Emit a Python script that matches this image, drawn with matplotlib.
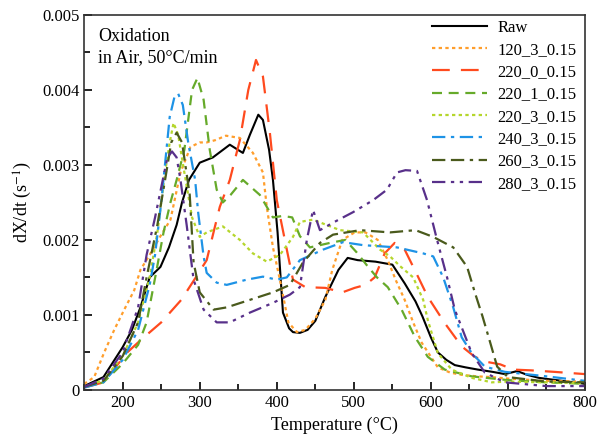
import matplotlib.pyplot as plt
from matplotlib.ticker import MultipleLocator

plt.rcParams['font.family'] = ['Liberation Serif', 'DejaVu Serif']
plt.rcParams['mathtext.fontset'] = 'stix'

# datos (temperatura en C, dX/dt en 1/s)
t_raw = [150, 175, 200, 212, 223, 235, 249, 260, 270, 277, 286, 300, 317, 339, 356, 365, 376, 382, 390, 395,
         401, 408, 416, 421, 430, 440, 450, 463, 480, 492, 505, 528, 550, 566, 580, 589, 600, 609, 620, 631,
         645, 661, 680, 696, 712, 725, 740, 770, 800]
y_raw = [0.00005, 0.00017, 0.00057, 0.0008, 0.0011, 0.0015, 0.00164, 0.0019, 0.0022, 0.0025, 0.0028, 0.00303,
         0.0031, 0.00327, 0.00316, 0.0034, 0.00367, 0.0036, 0.0032, 0.0028, 0.0021, 0.00103, 0.00082, 0.00077,
         0.00076, 0.0008, 0.00092, 0.00124, 0.0016, 0.00176, 0.00173, 0.00171, 0.00167, 0.00142, 0.00118,
         0.00098, 0.0007, 0.0005, 0.0004, 0.00033, 0.0003, 0.00027, 0.00024, 0.00021, 0.00025, 0.0002, 0.00016,
         0.00012, 0.00008]

t_120 = [150, 163, 176, 189, 202, 215, 223, 235, 249, 262, 275, 288, 300, 309, 320, 334, 352, 369, 382, 387,
         395, 404, 415, 426, 437, 450, 463, 472, 485, 501, 515, 531, 544, 555, 566, 577, 588, 609, 625, 640,
         660, 679, 700, 750, 800]
y_120 = [0.00008, 0.00017, 0.0005, 0.0008, 0.00107, 0.00133, 0.0016, 0.0018, 0.00205, 0.00227, 0.0029, 0.00324,
         0.0033, 0.0033, 0.00333, 0.00339, 0.00336, 0.00316, 0.0029, 0.00244, 0.0019, 0.00147, 0.0009, 0.00077,
         0.0008, 0.00095, 0.0012, 0.0016, 0.002, 0.0021, 0.0021, 0.002, 0.00173, 0.00145, 0.0012, 0.0009,
         0.00063, 0.0003, 0.00023, 0.0002, 0.00018, 0.00017, 0.00015, 0.00012, 0.00011]

t_220_0 = [150, 175, 206, 224, 250, 276, 293, 309, 326, 339, 352, 363, 373, 382, 391, 400, 413, 421, 437, 463,
           485, 501, 515, 527, 540, 553, 566, 579, 596, 618, 640, 657, 674, 690, 707, 730, 760, 800]
y_220_0 = [0.00003, 0.0001, 0.0005, 0.00067, 0.0009, 0.0012, 0.00147, 0.00173, 0.00244, 0.0028, 0.00333, 0.004,
           0.0044, 0.00418, 0.00343, 0.00253, 0.00187, 0.00147, 0.00137, 0.00136, 0.0013, 0.00136, 0.0014,
           0.0015, 0.00182, 0.00196, 0.00187, 0.0016, 0.00124, 0.00089, 0.00058, 0.00044, 0.00037, 0.00034,
           0.00027, 0.00026, 0.00024, 0.00021]

t_220_1 = [150, 175, 200, 220, 231, 244, 253, 262, 270, 280, 290, 297, 305, 313, 322, 330, 340, 356, 378, 395,
           408, 420, 430, 443, 469, 489, 504, 517, 530, 544, 562, 579, 596, 618, 653, 700, 750, 800]
y_220_1 = [0.00004, 0.0001, 0.00035, 0.0006, 0.0009, 0.0016, 0.0021, 0.0025, 0.0028, 0.0032, 0.004, 0.00416,
           0.00387, 0.0032, 0.00267, 0.0025, 0.0026, 0.0028, 0.0026, 0.0023, 0.00232, 0.0023, 0.00205, 0.0019,
           0.00196, 0.002, 0.00183, 0.00166, 0.0015, 0.00137, 0.00107, 0.00071, 0.00044, 0.00027, 0.00018,
           0.00013, 0.0001, 0.00008]

t_220_3 = [150, 175, 200, 220, 235, 245, 255, 261, 266, 272, 280, 290, 300, 309, 330, 352, 369, 387, 404, 421,
           430, 447, 482, 512, 534, 547, 560, 577, 590, 596, 609, 627, 653, 679, 700, 750, 800]
y_220_3 = [0.00004, 0.00013, 0.00045, 0.0009, 0.0015, 0.0021, 0.0029, 0.0033, 0.00356, 0.0034, 0.0029, 0.0023,
           0.00204, 0.0021, 0.00218, 0.002, 0.00182, 0.00171, 0.0018, 0.00204, 0.00224, 0.00227, 0.00213,
           0.0021, 0.00187, 0.00178, 0.00165, 0.0015, 0.0012, 0.00093, 0.00049, 0.00027, 0.00016, 0.0001,
           0.00011, 0.0001, 0.00009]

t_240_3 = [150, 175, 200, 220, 235, 242, 250, 261, 267, 272, 278, 285, 294, 298, 305, 309, 322, 335, 361, 382,
           400, 413, 430, 460, 486, 512, 556, 590, 603, 616, 629, 640, 653, 670, 696, 750, 800]
y_240_3 = [0.00003, 0.0001, 0.0004, 0.0008, 0.0014, 0.0018, 0.0025, 0.00364, 0.0039, 0.00395, 0.0038, 0.0033,
           0.0028, 0.00236, 0.00178, 0.00156, 0.00143, 0.0014, 0.00147, 0.00151, 0.00147, 0.0015, 0.00173,
           0.00187, 0.00197, 0.00193, 0.0019, 0.00182, 0.00178, 0.0015, 0.0011, 0.0007, 0.00049, 0.00031,
           0.00024, 0.00018, 0.00012]

t_260_3 = [150, 175, 200, 220, 231, 245, 255, 263, 270, 277, 287, 292, 300, 318, 335, 365, 395, 417, 434, 456,
           473, 508, 547, 580, 603, 629, 647, 657, 667, 677, 686, 700, 750, 800]
y_260_3 = [0.00004, 0.00012, 0.00045, 0.0009, 0.0015, 0.0022, 0.0028, 0.0033, 0.00343, 0.0033, 0.0026, 0.0017,
           0.0013, 0.00107, 0.0011, 0.0012, 0.0013, 0.0014, 0.0017, 0.00196, 0.00207, 0.00213, 0.0021, 0.00213,
           0.00204, 0.0019, 0.00164, 0.0013, 0.00098, 0.00063, 0.00031, 0.00017, 0.00011, 0.0001]

t_280_3 = [150, 175, 200, 220, 231, 242, 250, 258, 264, 270, 275, 283, 292, 305, 322, 339, 365, 395, 417, 430,
           439, 447, 456, 473, 499, 525, 543, 556, 567, 582, 595, 608, 621, 631, 653, 670, 696, 750, 800]
y_280_3 = [0.00004, 0.00015, 0.0005, 0.0011, 0.0018, 0.0023, 0.0027, 0.0031, 0.00318, 0.0031, 0.0028, 0.0022,
           0.00147, 0.00107, 0.0009, 0.0009, 0.00103, 0.00116, 0.00127, 0.00137, 0.002, 0.0024, 0.00213,
           0.00223, 0.00237, 0.00253, 0.00267, 0.0029, 0.00293, 0.00292, 0.00253, 0.002, 0.0015, 0.00107,
           0.00049, 0.00023, 0.0001, 0.00005, 0.00005]

plt.figure(figsize=(6.1, 4.41), dpi=100)
ax = plt.axes([0.138, 0.116, 0.821, 0.85])

ax.plot(t_raw, y_raw, color='black', lw=1.5, label='Raw')
ax.plot(t_120, y_120, color='#FF9E2C', lw=1.6, dashes=(1.5, 1.5), label='120_3_0.15')
ax.plot(t_220_0, y_220_0, color='#FF4A1E', lw=1.6, dashes=(8, 5), label='220_0_0.15')
ax.plot(t_220_1, y_220_1, color='#66AA2A', lw=1.6, dashes=(4.5, 3), label='220_1_0.15')
ax.plot(t_220_3, y_220_3, color='#B5D62C', lw=1.6, dashes=(1.5, 1.5), label='220_3_0.15')
ax.plot(t_240_3, y_240_3, color='#1E93E6', lw=1.6, dashes=(6, 2.5, 1.5, 2.5), label='240_3_0.15')
ax.plot(t_260_3, y_260_3, color='#4A5A1C', lw=1.6, dashes=(6, 2.5, 6, 2.5, 1.5, 2.5), label='260_3_0.15')
ax.plot(t_280_3, y_280_3, color='#58308A', lw=1.6, dashes=(6, 2.5, 1.5, 2.5, 1.5, 2.5), label='280_3_0.15')

ax.set_xlim(150, 800)
ax.set_ylim(0, 0.005)
ax.xaxis.set_major_locator(MultipleLocator(100))
ax.xaxis.set_minor_locator(MultipleLocator(50))
ax.yaxis.set_minor_locator(MultipleLocator(0.0005))
ax.set_yticks([0, 0.001, 0.002, 0.003, 0.004, 0.005])
ax.set_yticklabels(['0', '0.001', '0.002', '0.003', '0.004', '0.005'])
ax.tick_params(which='both', direction='in', top=False, right=False, labelsize=12, width=1.2)
ax.tick_params(which='major', length=6)
ax.tick_params(which='minor', length=4)
for s in ax.spines.values():
    s.set_linewidth(1.2)
    s.set_color('#333333')

ax.set_xlabel('Temperature (°C)', fontsize=13, labelpad=4)
ax.set_ylabel('dX/dt (s$^{-1}$)', fontsize=13, labelpad=6)
ax.text(0.028, 0.965, 'Oxidation\nin Air, 50°C/min', transform=ax.transAxes, fontsize=13,
        va='top', ha='left', linespacing=1.3)

ax.legend(loc='upper right', frameon=False, fontsize=12, handlelength=3.3, handletextpad=0.65,
          labelspacing=0.38, borderaxespad=0.1, bbox_to_anchor=(1.0, 1.01))

plt.savefig('out.png', dpi=100)
plt.close()
